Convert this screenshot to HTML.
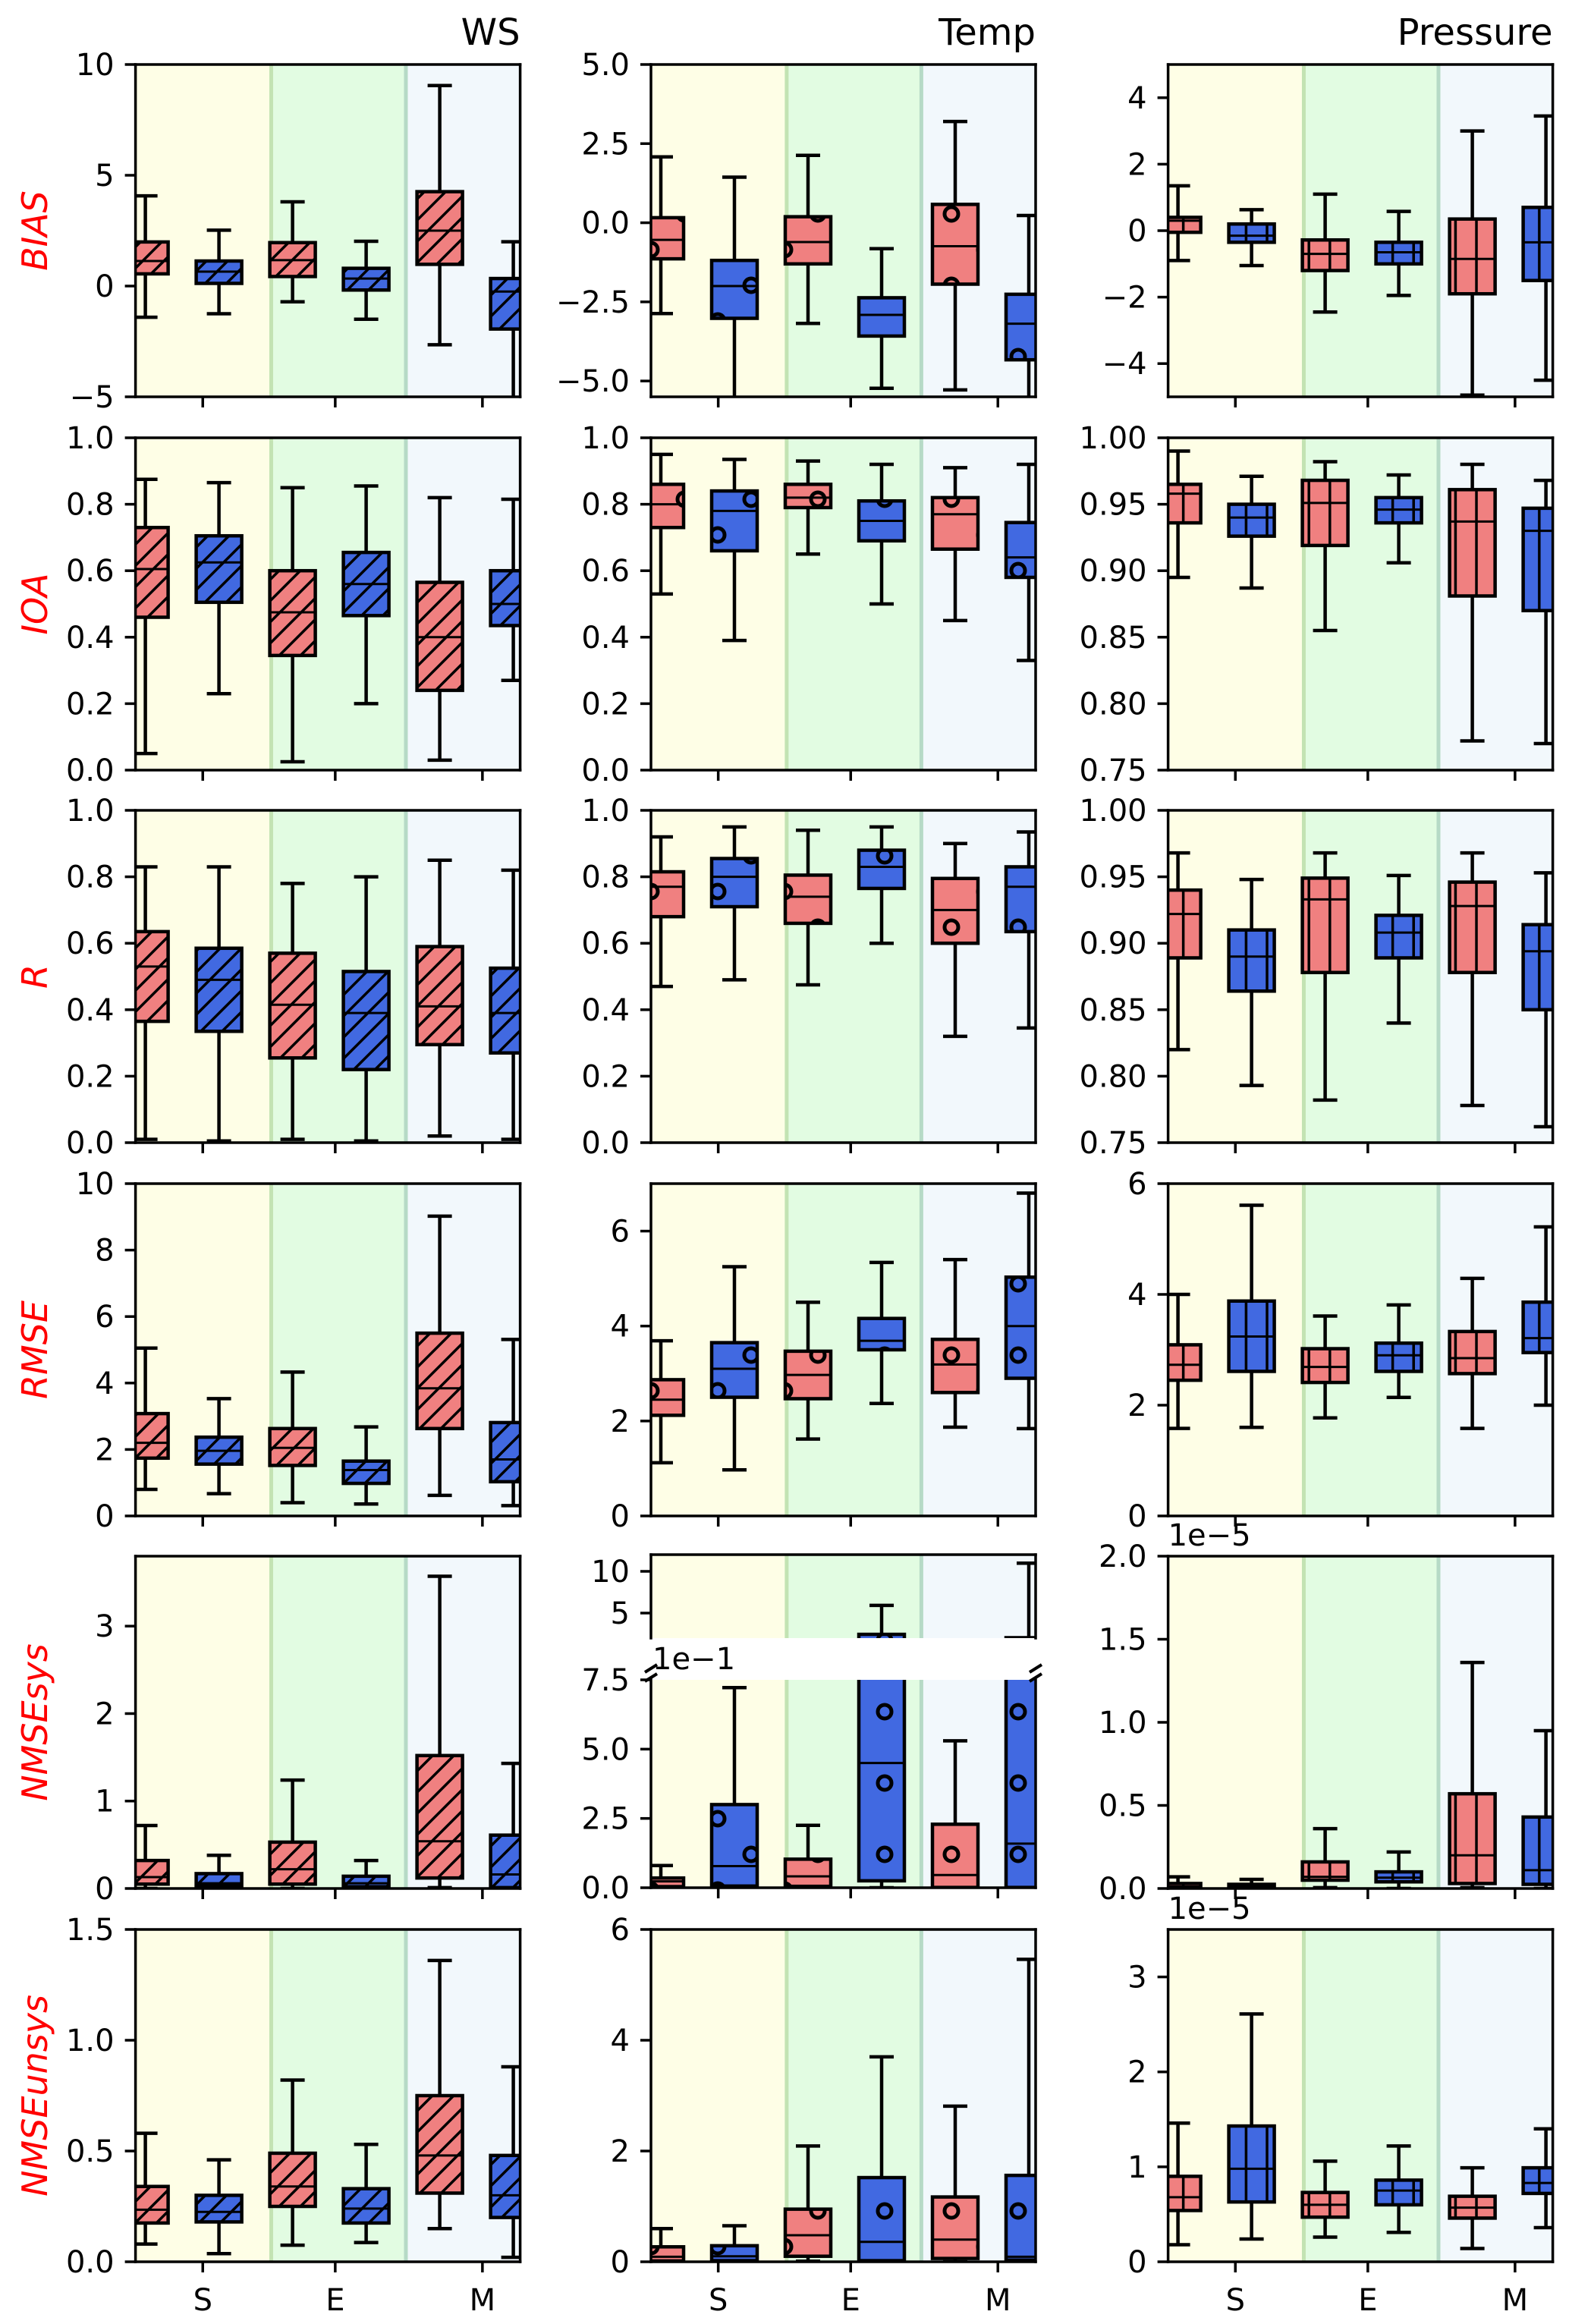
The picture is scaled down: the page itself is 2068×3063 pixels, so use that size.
<!DOCTYPE html>
<html>
<head>
<meta charset="utf-8">
<style>
html,body{margin:0;padding:0;background:#fff;}
svg{display:block;}
text{font-family:"DejaVu Sans","Liberation Sans",sans-serif;}
</style>
</head>
<body>
<svg id="fig" xmlns="http://www.w3.org/2000/svg" width="2068" height="3063" viewBox="0 0 2068 3063">
<defs>
<pattern id="hatch-diag" patternUnits="userSpaceOnUse" width="28" height="28">
<path d="M-7,7 L7,-7 M0,28 L28,0 M21,35 L35,21" stroke="#000" stroke-width="3.5"/>
</pattern>
<pattern id="hatch-circ" patternUnits="userSpaceOnUse" width="88" height="94">
<g fill="none" stroke="#000" stroke-width="5">
<circle cx="22" cy="0" r="9"/><circle cx="66" cy="47" r="9"/><circle cx="22" cy="94" r="9"/>
<circle cx="-22" cy="47" r="9"/><circle cx="110" cy="47" r="9"/>
</g>
</pattern>
<pattern id="hatch-vert" patternUnits="userSpaceOnUse" width="27.6" height="27.6">
<path d="M14,0 L14,27.6" stroke="#000" stroke-width="3.5"/>
</pattern>
</defs>
</svg>
<script>
// ---------- data: each box = [low whisker, q1, median, q3, high whisker] for S, E, M ----------
const CATEGORIES = ['S', 'E', 'M'];
const COL_TITLES = ['WS', 'Temp', 'Pressure'];
const ROW_LABELS = ['BIAS', 'IOA', 'R', 'RMSE', 'NMSEsys', 'NMSEunsys'];

const BIAS_WS_RED = [[-1.41,0.55,1.13,1.99,4.07],[-0.71,0.43,1.17,1.96,3.8],[-2.65,0.98,2.5,4.26,9.05]];
const BIAS_WS_BLUE = [[-1.25,0.12,0.65,1.13,2.52],[-1.5,-0.18,0.34,0.8,2.02],[-6,-1.94,-0.25,0.34,2.0]];
const BIAS_T_RED = [[-2.87,-1.14,-0.54,0.16,2.08],[-3.18,-1.3,-0.61,0.19,2.13],[-5.28,-1.94,-0.74,0.58,3.2]];
const BIAS_T_BLUE = [[-6,-3.02,-2.0,-1.19,1.44],[-5.23,-3.58,-2.91,-2.37,-0.82],[-6,-4.33,-3.19,-2.26,0.23]];
const BIAS_P_RED = [[-0.9,-0.05,0.3,0.4,1.35],[-2.45,-1.2,-0.7,-0.28,1.1],[-4.95,-1.9,-0.85,0.35,3.0]];
const BIAS_P_BLUE = [[-1.05,-0.35,-0.15,0.2,0.63],[-1.95,-1.0,-0.65,-0.35,0.58],[-4.5,-1.5,-0.35,0.7,3.45]];

const IOA_WS_RED = [[0.05,0.46,0.605,0.73,0.875],[0.025,0.345,0.475,0.6,0.85],[0.03,0.24,0.4,0.565,0.82]];
const IOA_WS_BLUE = [[0.23,0.505,0.625,0.705,0.865],[0.2,0.465,0.56,0.655,0.855],[0.27,0.435,0.5,0.6,0.815]];
const IOA_T_RED = [[0.53,0.73,0.8,0.86,0.95],[0.65,0.79,0.82,0.86,0.93],[0.45,0.665,0.77,0.82,0.91]];
const IOA_T_BLUE = [[0.39,0.66,0.78,0.84,0.935],[0.5,0.69,0.75,0.81,0.92],[0.33,0.58,0.64,0.745,0.92]];
const IOA_P_RED = [[0.895,0.936,0.958,0.965,0.99],[0.855,0.919,0.951,0.968,0.982],[0.772,0.881,0.937,0.961,0.98]];
const IOA_P_BLUE = [[0.887,0.926,0.94,0.95,0.971],[0.906,0.936,0.946,0.955,0.972],[0.77,0.87,0.93,0.947,0.968]];

const R_WS_RED = [[0.01,0.365,0.53,0.635,0.83],[0.01,0.255,0.415,0.57,0.78],[0.02,0.295,0.41,0.59,0.85]];
const R_WS_BLUE = [[0.005,0.335,0.49,0.585,0.83],[0.005,0.22,0.39,0.515,0.8],[0.01,0.27,0.39,0.525,0.82]];
const R_T_RED = [[0.47,0.68,0.77,0.815,0.92],[0.475,0.66,0.74,0.805,0.94],[0.32,0.6,0.7,0.795,0.9]];
const R_T_BLUE = [[0.49,0.71,0.8,0.855,0.95],[0.6,0.765,0.83,0.88,0.95],[0.345,0.635,0.77,0.83,0.935]];
const R_P_RED = [[0.82,0.889,0.922,0.94,0.968],[0.782,0.878,0.933,0.949,0.968],[0.778,0.878,0.928,0.946,0.968]];
const R_P_BLUE = [[0.793,0.864,0.89,0.91,0.948],[0.84,0.889,0.908,0.921,0.951],[0.762,0.85,0.894,0.914,0.953]];

const RMSE_WS_RED = [[0.8,1.74,2.2,3.08,5.05],[0.4,1.52,2.05,2.63,4.33],[0.62,2.63,3.84,5.5,9.02]];
const RMSE_WS_BLUE = [[0.67,1.56,1.96,2.37,3.53],[0.36,0.98,1.38,1.65,2.68],[0.31,1.03,1.7,2.81,5.31]];
const RMSE_T_RED = [[1.12,2.12,2.45,2.87,3.69],[1.62,2.47,2.97,3.47,4.5],[1.87,2.6,3.19,3.72,5.4]];
const RMSE_T_BLUE = [[0.97,2.5,3.1,3.65,5.25],[2.37,3.5,3.69,4.16,5.34],[1.84,2.9,4.0,5.03,6.8]];
const RMSE_P_RED = [[1.58,2.45,2.73,3.09,4.0],[1.77,2.41,2.69,3.02,3.61],[1.58,2.57,2.85,3.33,4.29]];
const RMSE_P_BLUE = [[1.6,2.61,3.24,3.88,5.61],[2.14,2.61,2.9,3.12,3.81],[2.0,2.95,3.21,3.86,5.22]];

const SYS_WS_RED = [[0,0.05,0.13,0.32,0.72],[0,0.05,0.22,0.53,1.24],[0.01,0.12,0.54,1.52,3.57]];
const SYS_WS_BLUE = [[0,0.03,0.06,0.17,0.38],[0,0.02,0.06,0.14,0.32],[0,0.01,0.16,0.61,1.43]];
const SYS_T_RED = [[0,0.004,0.023,0.035,0.08],[0,0.005,0.041,0.103,0.225],[0,0.001,0.046,0.229,0.53]];
const SYS_T_BLUE = [[0,0.006,0.078,0.3,0.722],[0,0.025,0.45,2.45,5.92],[0,0.001,0.159,2.05,10.98]];
const SYS_P_RED = [[0,0.005,0.012,0.03,0.07],[0.005,0.05,0.07,0.16,0.36],[0.005,0.03,0.2,0.57,1.36]];
const SYS_P_BLUE = [[0,0.005,0.01,0.025,0.055],[0,0.04,0.065,0.1,0.22],[0,0.025,0.11,0.43,0.95]];

const UNSYS_WS_RED = [[0.08,0.175,0.235,0.34,0.58],[0.075,0.25,0.34,0.49,0.82],[0.15,0.31,0.48,0.75,1.36]];
const UNSYS_WS_BLUE = [[0.037,0.18,0.225,0.3,0.46],[0.087,0.175,0.24,0.33,0.53],[0.02,0.2,0.3,0.48,0.88]];
const UNSYS_T_RED = [[0,0.015,0.09,0.27,0.6],[0.01,0.1,0.48,0.95,2.09],[0,0.06,0.4,1.17,2.81]];
const UNSYS_T_BLUE = [[0,0.02,0.1,0.29,0.65],[0,0.02,0.36,1.52,3.7],[0,0.03,0.09,1.56,5.46]];
const UNSYS_P_RED = [[0.18,0.54,0.68,0.9,1.46],[0.26,0.47,0.6,0.73,1.06],[0.14,0.46,0.57,0.69,0.99]];
const UNSYS_P_BLUE = [[0.24,0.63,0.98,1.43,2.61],[0.31,0.6,0.75,0.86,1.22],[0.36,0.72,0.83,0.99,1.4]];

// y ticks per panel
const TICKS_BIAS_WS = [-5,0,5,10];
const TICKS_BIAS_T = [-5,-2.5,0,2.5,5];
const TICKS_BIAS_P = [-4,-2,0,2,4];
const TICKS_UNIT = [0,0.2,0.4,0.6,0.8,1.0];
const TICKS_P_CORR = [0.75,0.8,0.85,0.9,0.95,1.0];
const TICKS_RMSE_WS = [0,2,4,6,8,10];
const TICKS_0246 = [0,2,4,6];
const TICKS_SYS_WS = [0,1,2,3];
const TICKS_SYS_T_UPPER = [5,10];
const TICKS_SYS_T_LOWER = [0,0.25,0.5,0.75];
const LABELS_SYS_T_LOWER = ['0.0','2.5','5.0','7.5'];
const TICKS_SYS_P = [0,0.5,1.0,1.5,2.0];
const TICKS_UNSYS_WS = [0,0.5,1.0,1.5];
const TICKS_UNSYS_P = [0,1,2,3];

// ---------- layout ----------
const NS = 'http://www.w3.org/2000/svg';
const svg = document.getElementById('fig');
const COL_LEFT = [178.6, 858, 1539.6];
const AX_W = 507;
const ROW_TOP = [85, 577, 1068, 1560, 2051, 2543];
const AX_H = 438;
const RED = '#F08080', BLUE = '#4169E1';
const HATCH = ['url(#hatch-diag)', 'url(#hatch-circ)', 'url(#hatch-vert)'];
const X0 = 13, XU = 97;
const TICK_SLOTS = [0.78, 2.58, 4.58];
const REGION_BOUNDS = [1.71, 3.54];
let clipId = 0;

function el(tag, attrs, parent) {
  const e = document.createElementNS(NS, tag);
  for (const k in attrs) e.setAttribute(k, attrs[k]);
  (parent || svg).appendChild(e);
  return e;
}
function fmt(v, dec) {
  const s = v.toFixed(dec);
  return s.replace('-', '\u2212');
}

function makeAxes(left, top, h, ymin, ymax) {
  return {left, top, h, ymin, ymax,
    y: v => top + (ymax - v) / (ymax - ymin) * h,
    x: v => left + X0 + XU * v};
}

function drawBackground(ax, g) {
  const b1 = ax.x(REGION_BOUNDS[0]), b2 = ax.x(REGION_BOUNDS[1]);
  const r1 = el('rect', {x: ax.left, y: ax.top, width: b1 - ax.left, height: ax.h, fill: '#FEFEE6'}, g);
  
  
  const r2 = el('rect', {x: b1, y: ax.top, width: b2 - b1, height: ax.h, fill: '#E2FCE2'}, g);
  
  
  const r3 = el('rect', {x: b2, y: ax.top, width: ax.left + AX_W - b2, height: ax.h, fill: '#F2F8FC'}, g);
  
  
  const l1 = el('line', {x1: b1, x2: b1, y1: ax.top, y2: ax.top + ax.h, stroke: '#C3E3B3', 'stroke-width': 5}, g);
  
  
  const l2 = el('line', {x1: b2, x2: b2, y1: ax.top, y2: ax.top + ax.h, stroke: '#B6DAC6', 'stroke-width': 5}, g);
  
  
}

function drawBox(ax, g, s, slot, color, hatch, name) {
  const cx = ax.x(slot), hw = 30, cw = 16;
  const bg = el('g', {}, g);
  
  
  const st = {stroke: '#000', 'stroke-width': 4.5, fill: 'none'};
  el('line', Object.assign({x1: cx, x2: cx, y1: ax.y(s[0]), y2: ax.y(s[1])}, st), bg);
  el('line', Object.assign({x1: cx, x2: cx, y1: ax.y(s[3]), y2: ax.y(s[4])}, st), bg);
  el('line', Object.assign({x1: cx - cw, x2: cx + cw, y1: ax.y(s[0]), y2: ax.y(s[0])}, st), bg);
  el('line', Object.assign({x1: cx - cw, x2: cx + cw, y1: ax.y(s[4]), y2: ax.y(s[4])}, st), bg);
  const yT = ax.y(s[3]), yB = ax.y(s[1]);
  el('rect', {x: cx - hw, y: yT, width: 2 * hw, height: yB - yT, fill: color}, bg);
  el('rect', {x: cx - hw, y: yT, width: 2 * hw, height: yB - yT, fill: hatch}, bg);
  el('rect', Object.assign({x: cx - hw, y: yT, width: 2 * hw, height: yB - yT}, st), bg);
  el('line', {x1: cx - hw, x2: cx + hw, y1: ax.y(s[2]), y2: ax.y(s[2]), stroke: '#000', 'stroke-width': 3}, bg);
}

function drawSeries(ax, g, red, blue, hatch) {
  for (let i = 0; i < CATEGORIES.length; i++) {
    drawBox(ax, g, red[i], 2 * i, RED, hatch, 'box-model-a-' + CATEGORIES[i].toLowerCase());
    drawBox(ax, g, blue[i], 2 * i + 1, BLUE, hatch, 'box-model-b-' + CATEGORIES[i].toLowerCase());
  }
}

function clipGroup(ax) {
  clipId++;
  const cp = el('clipPath', {id: 'clip' + clipId});
  el('rect', {x: ax.left, y: ax.top, width: AX_W, height: ax.h}, cp);
  return el('g', {'clip-path': 'url(#clip' + clipId + ')'});
}

function drawYTicks(ax, ticks, labels, dec) {
  ticks.forEach((t, i) => {
    const yy = ax.y(t);
    el('line', {x1: ax.left - 14, x2: ax.left, y1: yy, y2: yy, stroke: '#000', 'stroke-width': 3.5});
    const tx = el('text', {x: ax.left - 28, y: yy + 14, 'font-size': 40, 'text-anchor': 'end', fill: '#000'});
    tx.textContent = labels ? labels[i] : fmt(t, dec);
    
    
  });
}

function drawXTicks(ax, showLabels) {
  const yb = ax.top + ax.h;
  for (let i = 0; i < CATEGORIES.length; i++) {
    const xx = ax.x(TICK_SLOTS[i]);
    el('line', {x1: xx, x2: xx, y1: yb, y2: yb + 14, stroke: '#000', 'stroke-width': 3.5});
    if (showLabels) {
      const tx = el('text', {x: xx, y: yb + 64, 'font-size': 40, 'text-anchor': 'middle', fill: '#000'});
      tx.textContent = CATEGORIES[i];
      
      
    }
  }
}

function drawFrame(ax, sides) {
  const L = ax.left, R = ax.left + AX_W, T = ax.top, B = ax.top + ax.h;
  const st = {stroke: '#000', 'stroke-width': 3.5, 'stroke-linecap': 'square'};
  if (sides.includes('l')) el('line', Object.assign({x1: L, x2: L, y1: T, y2: B}, st));
  if (sides.includes('r')) el('line', Object.assign({x1: R, x2: R, y1: T, y2: B}, st));
  if (sides.includes('t')) el('line', Object.assign({x1: L, x2: R, y1: T, y2: T}, st));
  if (sides.includes('b')) el('line', Object.assign({x1: L, x2: R, y1: B, y2: B}, st));
}

function panel(r, c, ymin, ymax, ticks, dec, red, blue, labels, offsetText) {
  const ax = makeAxes(COL_LEFT[c], ROW_TOP[r], AX_H, ymin, ymax);
  const g = el('g', {});
  
  
  drawBackground(ax, g);
  const cg = clipGroup(ax);
  drawSeries(ax, cg, red, blue, HATCH[c]);
  drawFrame(ax, 'lrtb');
  drawYTicks(ax, ticks, labels, dec);
  drawXTicks(ax, r === 5);
  if (offsetText) {
    const ot = el('text', {x: ax.left, y: ax.top - 14, 'font-size': 40, fill: '#000'});
    ot.textContent = offsetText;
    
    
  }
  return ax;
}

panel(0, 0, -5, 10, TICKS_BIAS_WS, 0, BIAS_WS_RED, BIAS_WS_BLUE);
panel(0, 1, -5.5, 5, TICKS_BIAS_T, 1, BIAS_T_RED, BIAS_T_BLUE);
panel(0, 2, -5, 5, TICKS_BIAS_P, 0, BIAS_P_RED, BIAS_P_BLUE);
panel(1, 0, 0, 1, TICKS_UNIT, 1, IOA_WS_RED, IOA_WS_BLUE);
panel(1, 1, 0, 1, TICKS_UNIT, 1, IOA_T_RED, IOA_T_BLUE);
panel(1, 2, 0.75, 1, TICKS_P_CORR, 2, IOA_P_RED, IOA_P_BLUE);
panel(2, 0, 0, 1, TICKS_UNIT, 1, R_WS_RED, R_WS_BLUE);
panel(2, 1, 0, 1, TICKS_UNIT, 1, R_T_RED, R_T_BLUE);
panel(2, 2, 0.75, 1, TICKS_P_CORR, 2, R_P_RED, R_P_BLUE);
panel(3, 0, 0, 10, TICKS_RMSE_WS, 0, RMSE_WS_RED, RMSE_WS_BLUE);
panel(3, 1, 0, 7, TICKS_0246, 0, RMSE_T_RED, RMSE_T_BLUE);
panel(3, 2, 0, 6, TICKS_0246, 0, RMSE_P_RED, RMSE_P_BLUE);
panel(4, 0, 0, 3.8, TICKS_SYS_WS, 0, SYS_WS_RED, SYS_WS_BLUE);
panel(4, 2, 0, 2, TICKS_SYS_P, 1, SYS_P_RED, SYS_P_BLUE, null, '1e\u22125');
(function () {
  const gP = el('g', {});
  
  
  const up = makeAxes(COL_LEFT[1], 2049, 110, 2, 12);
  const lo = makeAxes(COL_LEFT[1], 2214, 274, 0, 0.75);
  [up, lo].forEach(ax => {
    drawBackground(ax, gP);
    const cg = clipGroup(ax);
    drawSeries(ax, cg, SYS_T_RED, SYS_T_BLUE, HATCH[1]);
  });
  drawFrame(up, 'lrt');
  drawFrame(lo, 'lrb');
  drawYTicks(up, TICKS_SYS_T_UPPER, null, 0);
  drawYTicks(lo, TICKS_SYS_T_LOWER, LABELS_SYS_T_LOWER, 1);
  drawXTicks(lo, false);
  const ot = el('text', {x: up.left + 2, y: 2200, 'font-size': 40, fill: '#000'});
  ot.textContent = '1e\u22121';
  
  
  [up.left, up.left + AX_W].forEach(xx => {
    const bm = el('path', {d: `M${xx-8},${2204} L${xx+8},${2194} M${xx-8},${2216} L${xx+8},${2206}`, stroke: '#000', 'stroke-width': 4, fill: 'none'});
    
    
  });
})();
panel(5, 0, 0, 1.5, TICKS_UNSYS_WS, 1, UNSYS_WS_RED, UNSYS_WS_BLUE);
panel(5, 1, 0, 6, TICKS_0246, 0, UNSYS_T_RED, UNSYS_T_BLUE);
panel(5, 2, 0, 3.5, TICKS_UNSYS_P, 0, UNSYS_P_RED, UNSYS_P_BLUE, null, '1e\u22125');

COL_TITLES.forEach((t, c) => {
  const tx = el('text', {x: COL_LEFT[c] + AX_W, y: 59, 'font-size': 48, 'text-anchor': 'end', fill: '#000'});
  tx.textContent = t;
  
  
});
ROW_LABELS.forEach((t, r) => {
  const cy = ROW_TOP[r] + AX_H / 2;
  const tx = el('text', {x: 62, y: cy, 'font-size': 46, 'font-style': 'italic', 'text-anchor': 'middle', fill: '#FF0000', transform: `rotate(-90 62 ${cy})`});
  tx.textContent = t;
  
  
});
</script>
</body>
</html>
